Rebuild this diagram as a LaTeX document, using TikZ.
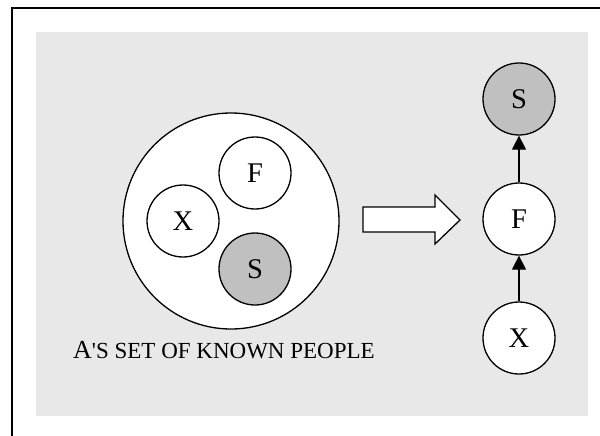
\documentclass[tikz,border=0pt]{standalone}
\usepackage{fontspec}
\setmainfont{Liberation Serif}[Ligatures=TeXOff]
\usetikzlibrary{arrows.meta}
\definecolor{panelgray}{HTML}{E8E8E8}
\definecolor{targetgray}{HTML}{C0C0C0}
\begin{document}
\begin{tikzpicture}[x=1pt,y=-1pt,
  person/.style={circle,draw,line width=1.3pt,fill=white,minimum size=72pt,inner sep=0pt,font=\fontsize{28.5}{28.5}\selectfont},
  target/.style={person,fill=targetgray},
  link/.style={line width=1.3pt,-{Triangle[width=14pt,length=14pt]}},
  frameline/.style={line width=2.2pt}]
  \useasboundingbox (0,0) rectangle (600,436);
  % page frame (top and left edges)
  \draw[frameline] (600,8) -- (12,8) -- (12,436);
  % shaded panel
  \fill[panelgray] (36,32) rectangle (588,416);
  % set of known people
  \node[circle,draw,line width=1.3pt,fill=white,minimum size=216pt,inner sep=0pt] (set) at (231,221) {};
  \node[person] (f1) at (255,173) {F};
  \node[person] (x1) at (183,221) {X};
  \node[target] (s1) at (255,269) {S};
  \node[anchor=base west,inner sep=0pt] (lbl) at (73,358)
    {\fontsize{26}{26}\selectfont A\fontsize{23}{24}\selectfont 'S SET OF KNOWN PEOPLE};
  % transformation arrow
  \draw[line width=1.3pt,fill=white] (363,207) -- (435,207) -- (435,195) -- (460,220)
    -- (435,244) -- (435,232) -- (363,232) -- cycle;
  % resulting chain
  \node[target] (s2) at (519,99) {S};
  \node[person] (f2) at (519,219) {F};
  \node[person] (x2) at (519,338) {X};
  \draw[link] (x2) -- (f2);
  \draw[link] (f2) -- (s2);
\end{tikzpicture}
\end{document}
